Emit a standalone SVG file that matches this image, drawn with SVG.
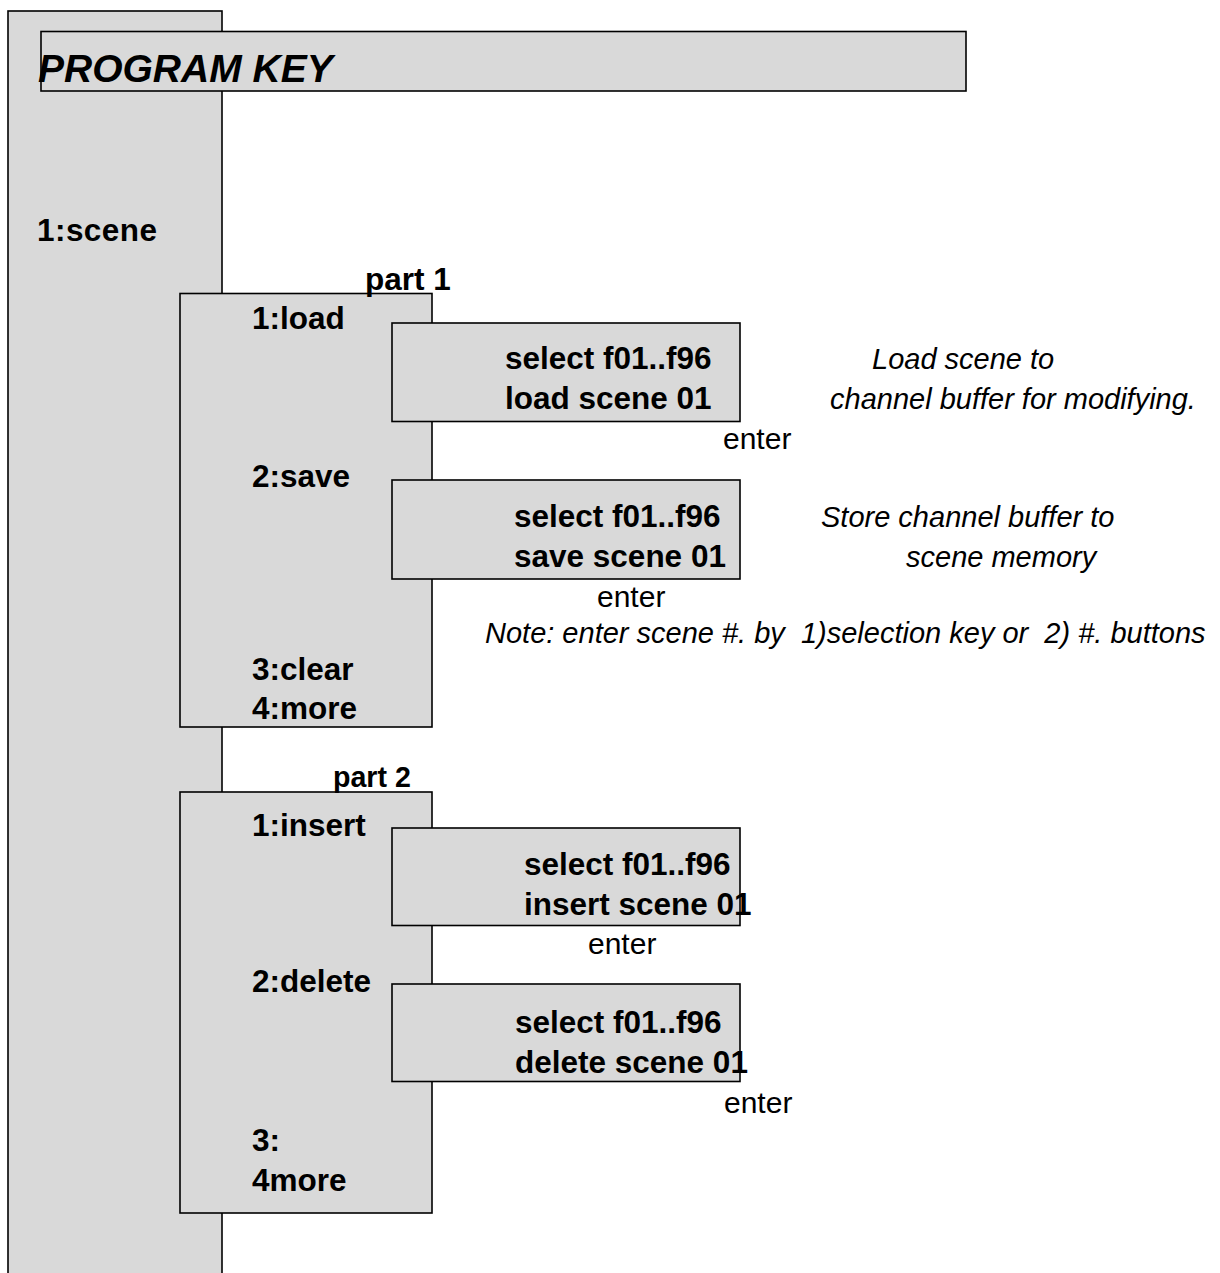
<svg xmlns="http://www.w3.org/2000/svg" width="1220" height="1273" viewBox="0 0 1220 1273">
<style>
.box{fill:#d9d9d9;stroke:#000;stroke-width:1.6}
.b{font-family:"Liberation Sans",Arial,sans-serif;font-weight:bold;font-size:31.5px;fill:#000}
.i{font-family:"Liberation Sans",Arial,sans-serif;font-style:italic;font-size:29px;fill:#000}
.r{font-family:"Liberation Sans",Arial,sans-serif;font-size:30px;fill:#000}
.pre{white-space:pre}
</style>
<rect width="1220" height="1273" fill="#fff"/>
<g id="scene-column">
<rect class="box" x="8" y="11" width="214" height="1280"/>
<text class="b" x="37" y="241" textLength="120">1:scene</text>
</g>
<g id="title">
<rect class="box" x="41" y="31.5" width="925" height="59.5"/>
<text class="b" x="38" y="82" style="font-style:italic;font-size:39px">PROGRAM KEY</text>
</g>
<g id="connectors"></g>
<g id="part1">
<rect class="box" x="180" y="293.5" width="252" height="433.5"/>
<text class="b" x="365" y="290">part 1</text>
<text class="b" x="252" y="329">1:load</text>
<text class="b" x="252" y="487">2:save</text>
<text class="b" x="252" y="680">3:clear</text>
<text class="b" x="252" y="719">4:more</text>
</g>
<g id="load-box">
<rect class="box" x="392" y="323" width="348" height="98.5"/>
<text class="b" x="505" y="369">select f01..f96</text>
<text class="b" x="505" y="409">load scene 01</text>
</g>
<g id="save-box">
<rect class="box" x="392" y="480" width="348" height="99"/>
<text class="b" x="514" y="527">select f01..f96</text>
<text class="b" x="514" y="567">save scene 01</text>
</g>
<g id="part1-notes">
<text class="i" x="872" y="369">Load scene to</text>
<text class="i" x="830" y="409">channel buffer for modifying.</text>
<text class="r" x="723" y="449">enter</text>
<text class="i" x="821" y="527">Store channel buffer to</text>
<text class="i" x="906" y="567">scene memory</text>
<text class="r" x="597" y="607">enter</text>
<text class="i pre" x="485" y="643" xml:space="preserve">Note: enter scene #. by  1)selection key or  2) #. buttons</text>
</g>
<g id="part2">
<rect class="box" x="180" y="792" width="252" height="421"/>
<text class="b" x="333" y="787" style="font-size:28.6px">part 2</text>
<text class="b" x="252" y="836">1:insert</text>
<text class="b" x="252" y="992">2:delete</text>
<text class="b" x="252" y="1151">3:</text>
<text class="b" x="252" y="1191">4more</text>
</g>
<g id="insert-box">
<rect class="box" x="392" y="828" width="348" height="97.5"/>
<text class="b" x="524" y="875">select f01..f96</text>
<text class="b" x="524" y="915">insert scene 01</text>
</g>
<g id="delete-box">
<rect class="box" x="392" y="984" width="348" height="97.5"/>
<text class="b" x="515" y="1033">select f01..f96</text>
<text class="b" x="515" y="1073">delete scene 01</text>
</g>
<g id="part2-notes">
<text class="r" x="588" y="954">enter</text>
<text class="r" x="724" y="1113">enter</text>
</g>
</svg>
